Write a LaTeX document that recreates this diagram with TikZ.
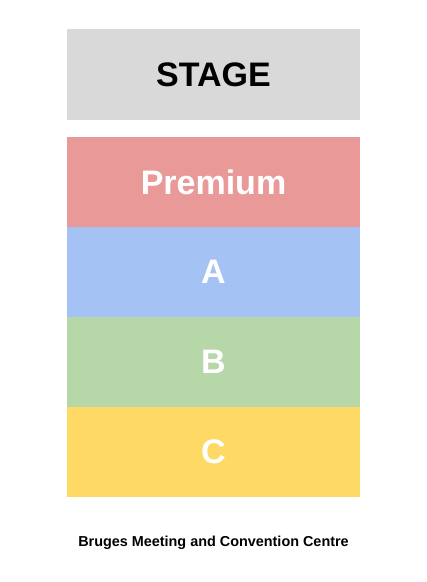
\documentclass[tikz,border=0pt]{standalone}
\usepackage{fontspec}
\setmainfont{Liberation Sans}
\usepackage{tikz}
\usetikzlibrary{positioning}

\definecolor{stagegray}{HTML}{D9D9D9}
\definecolor{premiumred}{HTML}{EA9999}
\definecolor{zoneblue}{HTML}{A4C2F4}
\definecolor{zonegreen}{HTML}{B6D7A8}
\definecolor{zoneyellow}{HTML}{FFD966}

\tikzset{
  section/.style={inner sep=0pt, outer sep=0pt, minimum width=219.75pt, minimum height=67.5pt,
    font=\fontsize{25.5}{26}\selectfont\bfseries, text=white},
}

\begin{document}
\begin{tikzpicture}[x=0.75pt,y=0.75pt,yscale=-1]
%set diagram left start at 0, and has height of 582
\useasboundingbox (0,0) rectangle (427,582);

%Shape: Rectangle [stage]
\node (stage) [section, fill=stagegray, minimum height=68.25pt, text=black] at (213.5,74.5) {STAGE};

%Shape: Rectangle [seat zones]
\node (premium) [section, fill=premiumred] at (213.5,182) {Premium};
\node (zonea) [section, fill=zoneblue, below=0pt of premium] {A};
\node (zoneb) [section, fill=zonegreen, below=0pt of zonea] {B};
\node (zonec) [section, fill=zoneyellow, below=0pt of zoneb] {C};

% Text Node
\node (venue) [font=\fontsize{10.8}{11}\selectfont\bfseries] at (213.5,543) {Bruges Meeting and Convention Centre};

\end{tikzpicture}
\end{document}
